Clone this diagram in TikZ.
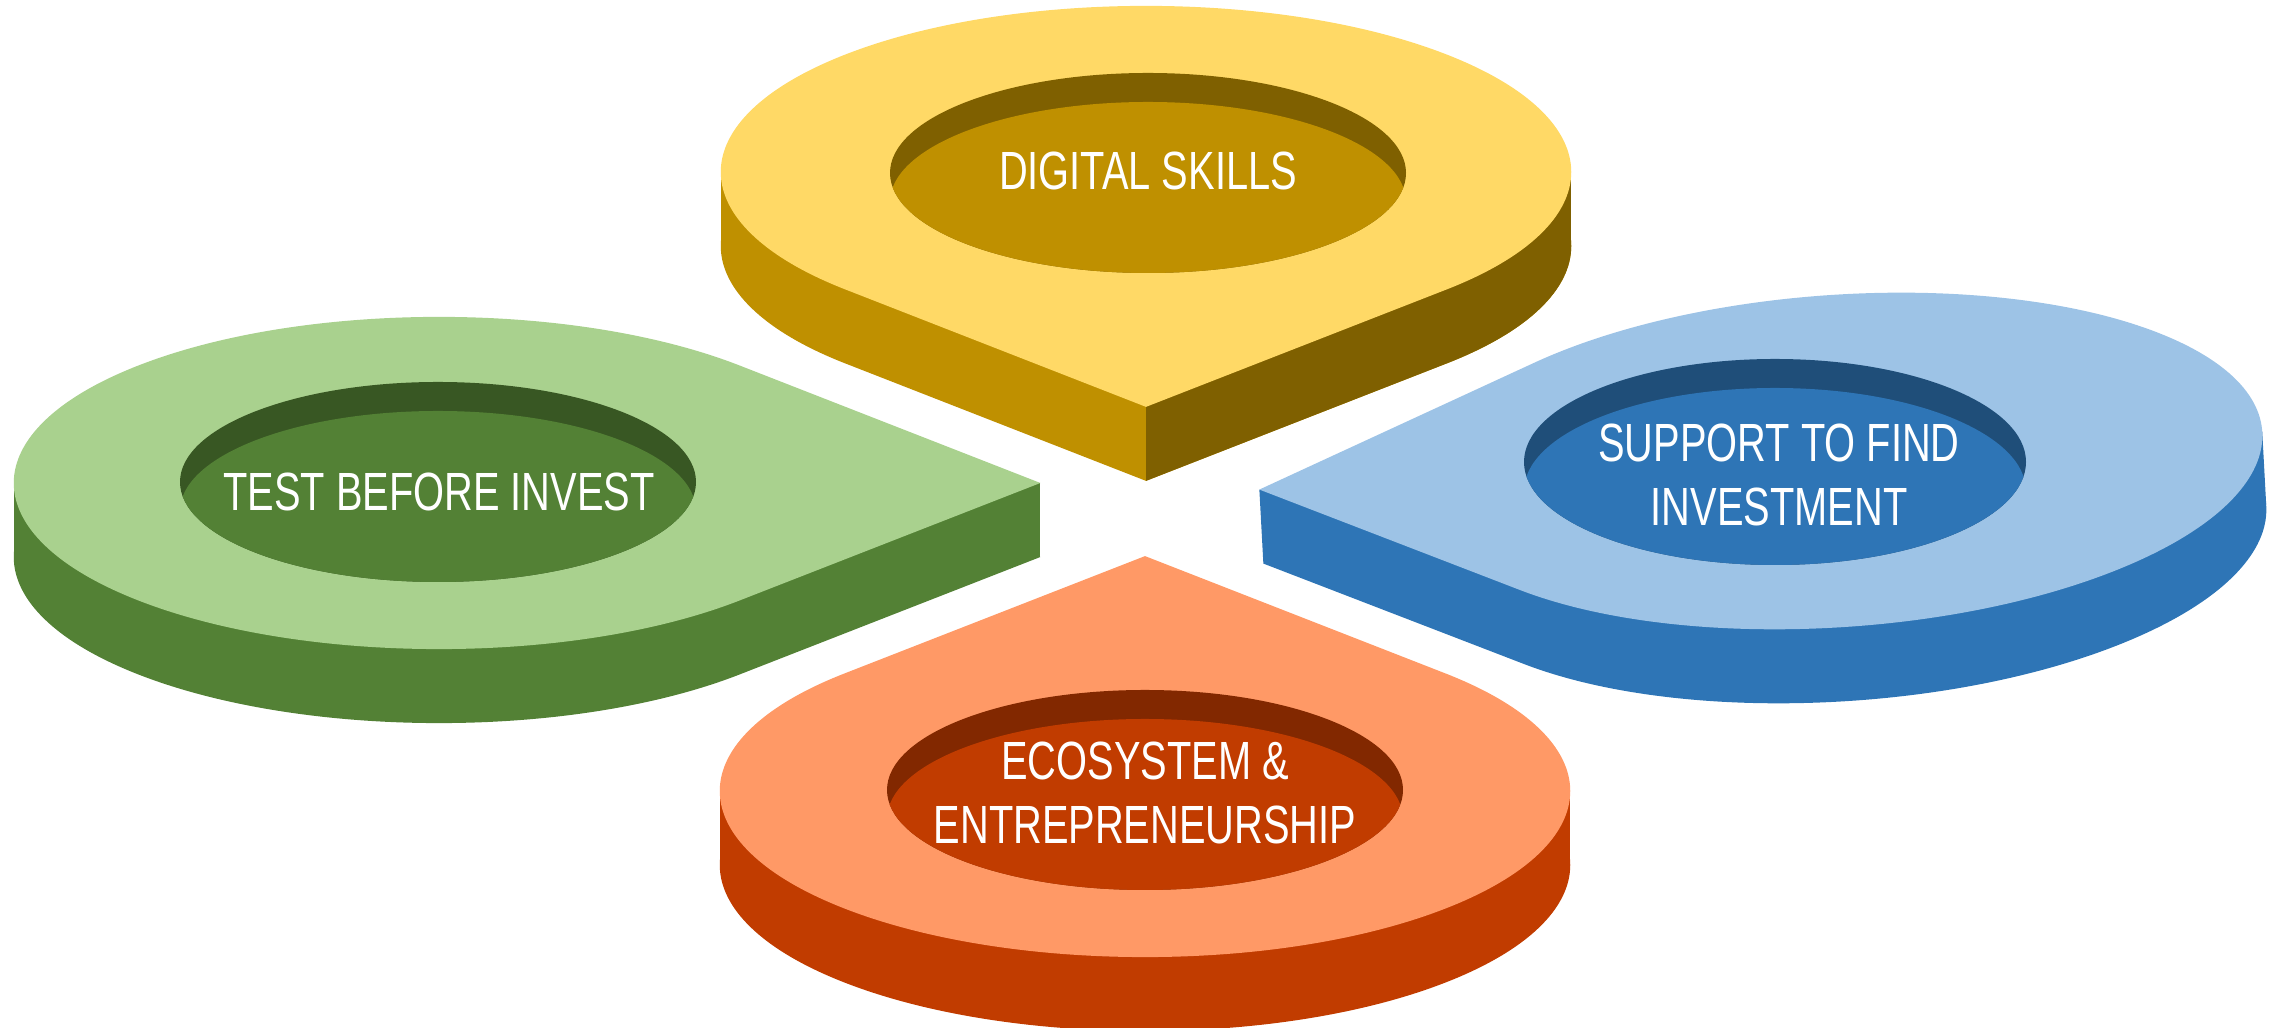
\documentclass[tikz,border=0pt]{standalone}
\usepackage{fontspec}
\newfontfamily\pinfont{Liberation Sans}[FakeStretch=0.74]
\definecolor{ylwtop}{HTML}{FFD966}
\definecolor{ylwside}{HTML}{BF9000}
\definecolor{ylwdark}{HTML}{7F6000}
\definecolor{grntop}{HTML}{A9D18E}
\definecolor{grnside}{HTML}{538135}
\definecolor{grndark}{HTML}{385723}
\definecolor{blutop}{HTML}{9DC3E6}
\definecolor{bluside}{HTML}{2E75B6}
\definecolor{bludark}{HTML}{1F4E79}
\definecolor{orgtop}{HTML}{FF9966}
\definecolor{orgside}{HTML}{C13C00}
\definecolor{orgdark}{HTML}{822800}
\tikzset{pinscale/.style={x=4.25cm,y=1.66cm},
  pinlabel/.style={text=white,align=center,inner sep=0pt,
    font=\pinfont\fontsize{15.3pt}{18.2pt}\selectfont}}

\begin{document}
\begin{tikzpicture}[x=0.01cm,y=0.01cm]
		\useasboundingbox (0,0) rectangle (2272,1028);
		%Digital skills
		\fill[ylwside] (721,856) rectangle (1571,782);
		\fill[ylwside,shift={(1146,782)},pinscale] (-90:1.4142)--(-45:1) arc[start angle=-45,end angle=225,radius=1]--cycle;
		\begin{scope}
		\clip (1146,0) rectangle (2272,1028);
		\fill[ylwdark] (721,856) rectangle (1571,782);
		\fill[ylwdark,shift={(1146,782)},pinscale] (-90:1.4142)--(-45:1) arc[start angle=-45,end angle=225,radius=1]--cycle;
		\end{scope}
		\fill[ylwtop,shift={(1146,856)},pinscale] (-90:1.4142)--(-45:1) arc[start angle=-45,end angle=225,radius=1]--cycle;
		\fill[ylwdark] (1148,855) ellipse[x radius=258,y radius=100];
		\begin{scope}
		\clip (1148,855) ellipse[x radius=258,y radius=100];
		\fill[ylwside] (1148,826) ellipse[x radius=258,y radius=100];
		\end{scope}
		\node[pinlabel] (digital) at (1148,856.5) {DIGITAL SKILLS};
		%Test before invest
		\fill[grnside] (14,545) rectangle (1040,471);
		\fill[grnside,shift={(439,471)},pinscale] (0:1.4142)--(45:1) arc[start angle=45,end angle=315,radius=1]--cycle;
		\fill[grntop,shift={(439,545)},pinscale] (0:1.4142)--(45:1) arc[start angle=45,end angle=315,radius=1]--cycle;
		\fill[grndark] (438,546) ellipse[x radius=258,y radius=100];
		\begin{scope}
		\clip (438,546) ellipse[x radius=258,y radius=100];
		\fill[grnside] (438,517) ellipse[x radius=258,y radius=100];
		\end{scope}
		\node[pinlabel] (testbefore) at (439,536) {TEST BEFORE INVEST};
		%Support to find investment
		\begin{scope}[shift={(1838,567)},rotate=4,pinscale]
		\coordinate (btip) at (177:1.364);
		\coordinate (bright) at (0:1);
		\end{scope}
		\begin{scope}[shift={(1842,493)},rotate=4,pinscale]
		\coordinate (btipd) at (177:1.364);
		\coordinate (brightd) at (0:1);
		\fill[bluside] (177:1.364)--(219.9:1) arc[start angle=219.9,end angle=494.1,radius=1]--cycle;
		\end{scope}
		\fill[bluside] (btip)--(bright)--(brightd)--(btipd)--cycle;
		\fill[blutop,shift={(1838,567)},rotate=4,pinscale] (177:1.364)--(219.9:1) arc[start angle=219.9,end angle=494.1,radius=1]--cycle;
		\fill[bludark] (1775,566) ellipse[x radius=251,y radius=103];
		\begin{scope}
		\clip (1775,566) ellipse[x radius=251,y radius=103];
		\fill[bluside] (1775,537) ellipse[x radius=251,y radius=103];
		\end{scope}
		\node[pinlabel] (support) at (1779,553) {SUPPORT TO FIND\\INVESTMENT};
		%Ecosystem and entrepreneurship
		\fill[orgside] (720,237) rectangle (1570,163);
		\fill[orgside,shift={(1145,163)},pinscale] (90:1.4142)--(135:1) arc[start angle=135,end angle=405,radius=1]--cycle;
		\fill[orgtop,shift={(1145,237)},pinscale] (90:1.4142)--(135:1) arc[start angle=135,end angle=405,radius=1]--cycle;
		\fill[orgdark] (1145,238) ellipse[x radius=258,y radius=100];
		\begin{scope}
		\clip (1145,238) ellipse[x radius=258,y radius=100];
		\fill[orgside] (1145,209) ellipse[x radius=258,y radius=100];
		\end{scope}
		\node[pinlabel] (ecosystem) at (1145,235) {ECOSYSTEM \&\\ENTREPRENEURSHIP};
		
		\end{tikzpicture}
\end{document}
